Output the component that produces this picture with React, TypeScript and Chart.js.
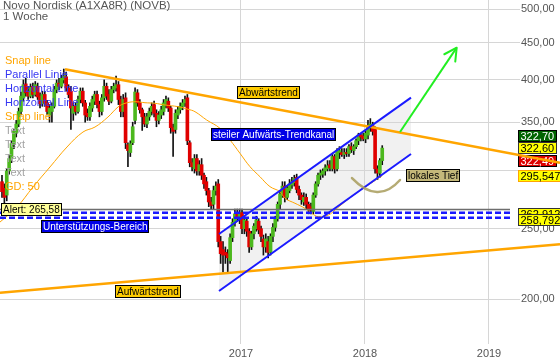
import React, { useEffect, useRef } from "react";
import { Chart, registerables } from "chart.js";

Chart.register(...registerables);

const FONT = "'Liberation Sans', Arial, Helvetica, sans-serif";

// ---- axes (x in fractional years, y in DKK, log scale) ----
const X_MIN = 2015.0565;
const X_MAX = 2019.2339;
const X_EDGE = 2019.5726; // right edge of the canvas (lines run past the axis)
const Y_MIN = 173.66;
const Y_MAX = 514.91;
const X_TICKS = [2017, 2018, 2019];
const Y_TICKS = [200, 250, 300, 350, 400, 450, 500];

// ---- weekly candles ----
const FIRST_WEEK = 2015.0726;
const WEEK = 7 / 365.25;

const OPEN = [
  290, 284, 278, 300, 312, 327, 338, 348, 362, 378, 395, 386, 380, 392, 382, 392, 380, 371, 382, 372,
  358, 362, 368, 388, 396, 392, 400, 404, 390, 386, 360, 368, 362, 376, 386, 372, 360, 356, 366, 374,
  382, 370, 362, 378, 392, 382, 374, 388, 390, 394, 376, 362, 378, 326, 318, 328, 352, 384, 372, 364,
  356, 348, 356, 362, 370, 360, 352, 358, 362, 370, 374, 366, 344, 342, 358, 364, 368, 372, 378, 328,
  308, 302, 312, 300, 306, 296, 290, 282, 272, 270, 282, 288, 240, 234, 232, 231, 226, 243, 255, 262,
  258, 263, 250, 256, 248, 236, 246, 250, 256, 250, 242, 236, 240, 232, 244, 251, 258, 270, 279, 286,
  276, 282, 287, 289, 294, 283, 278, 272, 276, 270, 268, 264, 278, 288, 296, 297, 300, 302, 306, 302,
  314, 302, 318, 318, 316, 318, 317, 324, 320, 324, 330, 336, 335, 332, 336, 344, 346, 342, 302, 298,
  310,
];
const HIGH = [
  296, 288, 302, 315, 330, 342, 352, 366, 385, 400, 402, 392, 395, 396, 398, 396, 384, 386, 386, 375,
  370, 372, 392, 400, 402, 406, 414, 410, 394, 392, 372, 372, 380, 390, 390, 375, 365, 372, 380, 386,
  386, 374, 382, 400, 396, 388, 392, 396, 405, 398, 380, 382, 384, 328, 330, 350, 390, 388, 376, 366,
  360, 360, 366, 372, 374, 364, 362, 368, 376, 380, 378, 368, 348, 364, 368, 372, 376, 380, 382, 330,
  312, 316, 316, 310, 312, 298, 294, 284, 276, 286, 290, 292, 244, 240, 236, 234, 246, 258, 266, 266,
  266, 266, 260, 258, 250, 248, 254, 260, 258, 252, 245, 246, 244, 246, 254, 260, 272, 282, 290, 290,
  286, 292, 294, 296, 297, 286, 280, 280, 279, 272, 271, 280, 290, 298, 301, 302, 306, 310, 310, 316,
  316, 322, 324, 322, 322, 322, 326, 328, 326, 332, 338, 338, 338, 340, 352, 354, 350, 345, 305, 312,
  325,
];
const LOW = [
  276, 270, 273, 297, 308, 322, 334, 345, 358, 374, 380, 376, 378, 378, 380, 376, 366, 368, 368, 358,
  350, 350, 366, 384, 388, 390, 396, 386, 378, 342, 352, 358, 360, 372, 368, 350, 352, 352, 362, 370,
  366, 356, 358, 374, 376, 370, 372, 384, 386, 370, 356, 356, 322, 304, 314, 326, 348, 368, 360, 341,
  345, 344, 352, 358, 356, 345, 348, 354, 358, 366, 362, 338, 314, 338, 354, 360, 364, 368, 326, 304,
  300, 298, 296, 296, 292, 284, 278, 268, 266, 266, 278, 236, 224, 218, 224, 218, 224, 240, 252, 256,
  254, 246, 246, 244, 232, 234, 242, 248, 246, 240, 230, 232, 228, 230, 240, 248, 256, 266, 276, 272,
  274, 280, 284, 286, 280, 274, 270, 269, 266, 262, 262, 262, 276, 286, 292, 294, 296, 300, 300, 300,
  298, 300, 312, 314, 312, 314, 314, 318, 316, 322, 326, 330, 330, 328, 332, 340, 336, 298, 292, 294,
  306,
];
const CLOSE = [
  281, 276, 300, 312, 327, 340, 348, 362, 380, 394, 384, 380, 391, 382, 394, 379, 371, 382, 372, 362,
  366, 368, 388, 396, 392, 402, 405, 390, 382, 366, 368, 362, 376, 386, 372, 358, 356, 368, 376, 382,
  370, 362, 378, 392, 380, 374, 388, 392, 394, 376, 362, 376, 328, 320, 327, 345, 385, 372, 364, 356,
  348, 356, 362, 368, 360, 352, 358, 364, 372, 376, 366, 344, 340, 360, 364, 368, 372, 376, 330, 308,
  304, 312, 300, 306, 296, 288, 282, 272, 269, 282, 286, 240, 231, 230, 230, 228, 243, 255, 262, 259,
  263, 250, 257, 248, 236, 246, 252, 257, 249, 244, 236, 242, 232, 244, 251, 258, 270, 279, 286, 276,
  284, 288, 290, 293, 283, 278, 274, 276, 270, 266, 265, 278, 288, 296, 298, 300, 303, 305, 303, 314,
  302, 320, 320, 316, 318, 317, 324, 321, 324, 330, 336, 334, 332, 338, 346, 348, 340, 302, 298, 310,
  322.49,
];

// ---- GD 50 (50-week moving average) ----
const MA_YEARS = [
  2015.0565, 2015.1936, 2015.3226, 2015.4597, 2015.5968, 2015.7258, 2015.8226, 2015.9274, 2016.0081,
  2016.0645, 2016.1452, 2016.2258, 2016.3065, 2016.3871, 2016.4919, 2016.5726, 2016.629, 2016.7234,
  2016.8306, 2016.9113, 2016.9919, 2017.0726, 2017.1532, 2017.2339, 2017.3145, 2017.3548, 2017.4355,
  2017.5161, 2017.5702, 2017.6234, 2017.704, 2017.7581, 2017.8387, 2017.946, 2018.0266, 2018.1073,
  2018.1387,
];
const MA_VALUES = [
  255.3, 267.7, 285.2, 303.8, 323.6, 339.3, 344.7, 355.8, 367.2, 371.5, 373.4, 372.2, 371.5, 369.5,
  367.6, 364.6, 361.8, 352.4, 343.3, 330.9, 317.2, 304.1, 294.6, 285.5, 281.0, 275.2, 270.9, 266.6,
  262.5, 259.6, 261.0, 265.2, 272.2, 281.0, 287.0, 293.1, 295.5,
];

// ---- drawn lines (chart tools) ----
const DOWNTREND_YEARS = [2015.5807, X_EDGE];
const DOWNTREND_VALUES = [413.7, 307.96];
const UPTREND_YEARS = [X_MIN, X_EDGE];
const UPTREND_VALUES = [204.2, 238.0];
const CHANNEL_UP_YEARS = [2016.8226, 2018.371];
const CHANNEL_UP_VALUES = [245.8, 378.2];
const CHANNEL_LOW_YEARS = [2016.8226, 2018.371];
const CHANNEL_LOW_VALUES = [205.3, 316.5];
const ARROW_YEARS = [2018.2823, 2018.7395];
const ARROW_VALUES = [339.3, 442.9];
const ARC_YEARS = [2017.8952, 2018.1049, 2018.2823];
const ARC_VALUES = [293.4, 269.4, 291.6];
const HLINE_END = 2019.1694;
const ALERT_VALUE = 265.58;
const SUPPORT_VALUES = [262.912, 258.792];

// ---- right-hand price tags ----
const TAG_VALUES = [322.7, 322.6, 322.49, 295.547, 262.912, 258.792];
const TAG_TEXTS = ["322,70", "322,60", "322,49", "295,547", "262,912", "258,792"];
const TAG_BG = ["#006400", "#ffff00", "#dd0000", "#ffff00", "#ffff00", "#ffff00"];
const TAG_FG = ["#ffffff", "#000000", "#ffffff", "#000000", "#000000", "#000000"];
const TAG_BORDER = ["#000000", "#333333", "#000000", "#ffa500", "#333333", "#333333"];
const TAG_SHIFT = [-12, 0, 12, 0, 1, 1.5];

// ---- notes on the chart ----
const NOTE_TEXTS = ["Abwärtstrend", "steiler Aufwärts-Trendkanal", "Aufwärtstrend", "Unterstützungs-Bereich", "lokales Tief", "Alert: 265,58"];
const NOTE_YEARS = [2016.9678, 2016.7581, 2015.9839, 2015.3871, 2018.3306, 2015.0646];
const NOTE_VALUES = [385.6, 337.7, 205.6, 252.1, 296.2, 266.3];
const NOTE_BG = ["#ffcc00", "#0000e6", "#ffcc00", "#0000e6", "#c4b87a", "#ffff99"];
const NOTE_FG = ["#000000", "#ffffff", "#000000", "#ffffff", "#000000", "#000000"];

// ---- left legend of drawing tools ----
const ORANGE = "#ffa500";
const TOOL_BLUE = "#3636f2";
const TOOL_GRAY = "#a3a3a3";
const LEGEND_TEXTS = ["Snap line", "Parallel Linie", "Horizontal Line", "Horizontal Line", "Snap line", "Text", "Text", "Text", "Text", "GD: 50"];
const LEGEND_COLORS = [ORANGE, TOOL_BLUE, TOOL_BLUE, TOOL_BLUE, ORANGE, TOOL_GRAY, TOOL_GRAY, TOOL_GRAY, TOOL_GRAY, ORANGE];

const TITLE = "Novo Nordisk (A1XA8R) (NOVB)";
const SUBTITLE = "1 Woche";

const UP = "#4cb81e";
const DOWN = "#e00000";
const LINE_BLUE = "#1a1aff";
const GRID = "#d6d6d6";

function box(ctx: CanvasRenderingContext2D, text: string, left: number, cy: number, bg: string, fg: string, border: string, size: number, padX: number, h: number) {
  ctx.font = `${size}px ${FONT}`;
  const w = Math.round(ctx.measureText(text).width + padX * 2);
  const top = Math.round(cy - h / 2) + 0.5;
  const l = Math.round(left) + 0.5;
  ctx.fillStyle = bg;
  ctx.fillRect(l, top, w, h);
  ctx.strokeStyle = border;
  ctx.lineWidth = 1;
  ctx.strokeRect(l, top, w, h);
  ctx.fillStyle = fg;
  ctx.textAlign = "left";
  ctx.textBaseline = "middle";
  ctx.fillText(text, l + padX, top + h / 2 + 0.5);
}

const overlay = {
  id: "overlay",
  beforeDatasetsDraw(chart: any) {
    const { ctx, chartArea } = chart;
    const xs = chart.scales.x;
    const ys = chart.scales.y;
    const px = (v: number) => xs.getPixelForValue(v);
    const py = (v: number) => ys.getPixelForValue(v);
    ctx.save();
    ctx.beginPath();
    ctx.moveTo(px(CHANNEL_UP_YEARS[0]), py(CHANNEL_UP_VALUES[0]));
    ctx.lineTo(px(CHANNEL_UP_YEARS[1]), py(CHANNEL_UP_VALUES[1]));
    ctx.lineTo(px(CHANNEL_LOW_YEARS[1]), py(CHANNEL_LOW_VALUES[1]));
    ctx.lineTo(px(CHANNEL_LOW_YEARS[0]), py(CHANNEL_LOW_VALUES[0]));
    ctx.closePath();
    ctx.fillStyle = "rgba(210,210,210,0.32)";
    ctx.fill();
    for (let i = 0; i < TAG_VALUES.length; i++) {
      box(ctx, TAG_TEXTS[i], chartArea.right, py(TAG_VALUES[i]) + TAG_SHIFT[i], TAG_BG[i], TAG_FG[i], TAG_BORDER[i], 11, 2, 11);
    }
    ctx.restore();
  },
  afterDatasetsDraw(chart: any) {
    const { ctx } = chart;
    const xs = chart.scales.x;
    const ys = chart.scales.y;
    const px = (v: number) => xs.getPixelForValue(v);
    const py = (v: number) => ys.getPixelForValue(v);
    ctx.save();
    // arrow head
    const x0 = px(ARROW_YEARS[0]), y0 = py(ARROW_VALUES[0]);
    const x1 = px(ARROW_YEARS[1]), y1 = py(ARROW_VALUES[1]);
    const ang = Math.atan2(y1 - y0, x1 - x0);
    ctx.strokeStyle = "#22ee22";
    ctx.lineWidth = 2;
    ctx.lineCap = "round";
    ctx.beginPath();
    for (const s of [-1, 1]) {
      const a = ang + Math.PI + s * 0.49;
      ctx.moveTo(x1, y1);
      ctx.lineTo(x1 + 14 * Math.cos(a), y1 + 14 * Math.sin(a));
    }
    ctx.stroke();
    // local low arc
    ctx.strokeStyle = "rgba(168,156,92,0.85)";
    ctx.lineWidth = 2.5;
    ctx.beginPath();
    ctx.moveTo(px(ARC_YEARS[0]), py(ARC_VALUES[0]));
    ctx.quadraticCurveTo(px(ARC_YEARS[1]), py(ARC_VALUES[1]), px(ARC_YEARS[2]), py(ARC_VALUES[2]));
    ctx.stroke();
    // notes
    for (let i = 0; i < NOTE_TEXTS.length; i++) {
      box(ctx, NOTE_TEXTS[i], px(NOTE_YEARS[i]), py(NOTE_VALUES[i]), NOTE_BG[i], NOTE_FG[i], "#000000", 10, 1.5, 12);
    }
    // title
    ctx.textAlign = "left";
    ctx.textBaseline = "middle";
    ctx.fillStyle = "#555555";
    ctx.font = `11.5px ${FONT}`;
    ctx.fillText(TITLE, 3, 6);
    ctx.fillText(SUBTITLE, 3, 16.5);
    // tool legend
    ctx.font = `11px ${FONT}`;
    for (let i = 0; i < LEGEND_TEXTS.length; i++) {
      ctx.fillStyle = LEGEND_COLORS[i];
      ctx.fillText(LEGEND_TEXTS[i], 5, 61 + i * 14);
    }
    ctx.restore();
  },
};

function lineSet(xs: number[], ys: number[], color: string, width: number, order: number, extra: any = {}) {
  return {
    type: "line",
    data: xs.map((x, i) => ({ x, y: ys[i] })),
    borderColor: color,
    borderWidth: width,
    pointRadius: 0,
    fill: false,
    tension: 0,
    order,
    ...extra,
  };
}

export default function App() {
  const ref = useRef<HTMLCanvasElement>(null);
  useEffect(() => {
    const canvas = ref.current;
    if (!canvas) return;
    Chart.defaults.font.family = FONT;
    const weeks = OPEN.map((_, i) => FIRST_WEEK + i * WEEK);
    const wicks = weeks.map((x, i) => ({ x, y: [LOW[i], HIGH[i]] }));
    const bodies = weeks.map((x, i) => ({ x, y: [OPEN[i], CLOSE[i]] }));
    const bodyColors = weeks.map((_, i) => (CLOSE[i] >= OPEN[i] ? UP : DOWN));

    const chart = new Chart(canvas, {
      type: "bar",
      data: {
        datasets: [
          { type: "bar", data: wicks, backgroundColor: "#111111", barThickness: 1, grouped: false, order: 20 } as any,
          { type: "bar", data: bodies, backgroundColor: bodyColors, barThickness: 3, minBarLength: 1, grouped: false, order: 19 } as any,
          lineSet(MA_YEARS, MA_VALUES, ORANGE, 1, 8, { tension: 0.4 }),
          lineSet([X_MIN, HLINE_END], [ALERT_VALUE, ALERT_VALUE], "#6e6e6e", 1.5, 7),
          lineSet([X_MIN, HLINE_END], [SUPPORT_VALUES[0], SUPPORT_VALUES[0]], LINE_BLUE, 2.5, 6, { borderDash: [6, 3] }),
          lineSet([X_MIN, HLINE_END], [SUPPORT_VALUES[1], SUPPORT_VALUES[1]], LINE_BLUE, 2.5, 6, { borderDash: [6, 3] }),
          lineSet(DOWNTREND_YEARS, DOWNTREND_VALUES, ORANGE, 2.5, 5, { clip: false }),
          lineSet(UPTREND_YEARS, UPTREND_VALUES, ORANGE, 2.5, 5, { clip: false }),
          lineSet(CHANNEL_UP_YEARS, CHANNEL_UP_VALUES, LINE_BLUE, 2, 4),
          lineSet(CHANNEL_LOW_YEARS, CHANNEL_LOW_VALUES, LINE_BLUE, 2, 4),
          lineSet(ARROW_YEARS, ARROW_VALUES, "#22ee22", 2, 3, { clip: false }),
        ] as any,
      },
      options: {
        animation: false,
        responsive: false,
        devicePixelRatio: 1,
        layout: { padding: 0 },
        plugins: { legend: { display: false }, tooltip: { enabled: false } },
        scales: {
          x: {
            type: "linear",
            min: X_MIN,
            max: X_MAX,
            offset: false,
            grid: { color: GRID, drawTicks: false, offset: false },
            border: { display: false },
            ticks: {
              color: "#555555",
              font: { family: FONT, size: 11 },
              padding: 3,
              autoSkip: false,
              maxRotation: 0,
              callback: (v: any) => String(v),
            },
            afterBuildTicks: (s: any) => {
              s.ticks = X_TICKS.map((v) => ({ value: v }));
            },
            afterFit: (s: any) => {
              s.height = 18;
              s.paddingLeft = 0;
              s.paddingRight = 0;
            },
          },
          y: {
            type: "logarithmic",
            position: "right",
            min: Y_MIN,
            max: Y_MAX,
            grid: { color: GRID, drawTicks: true, tickLength: 2 },
            border: { display: false },
            ticks: {
              color: "#555555",
              font: { family: FONT, size: 11 },
              padding: 1,
              autoSkip: false,
              callback: (v: any) => {
                const n = Number(v);
                if (TAG_VALUES.some((t) => Math.abs(n / t - 1) < 0.025)) return "";
                return n.toFixed(2).replace(".", ",");
              },
            },
            afterBuildTicks: (s: any) => {
              s.ticks = Y_TICKS.map((v) => ({ value: v }));
            },
            afterFit: (s: any) => {
              s.width = 42;
              s.paddingTop = 0;
              s.paddingBottom = 0;
            },
          },
        },
      } as any,
      plugins: [overlay],
    });
    return () => chart.destroy();
  }, []);

  return (
    <div style={{ position: "fixed", left: 0, top: 0, width: 560, height: 362, background: "#ffffff" }}>
      <canvas ref={ref} width={560} height={362} style={{ display: "block", width: 560, height: 362 }} />
    </div>
  );
}
